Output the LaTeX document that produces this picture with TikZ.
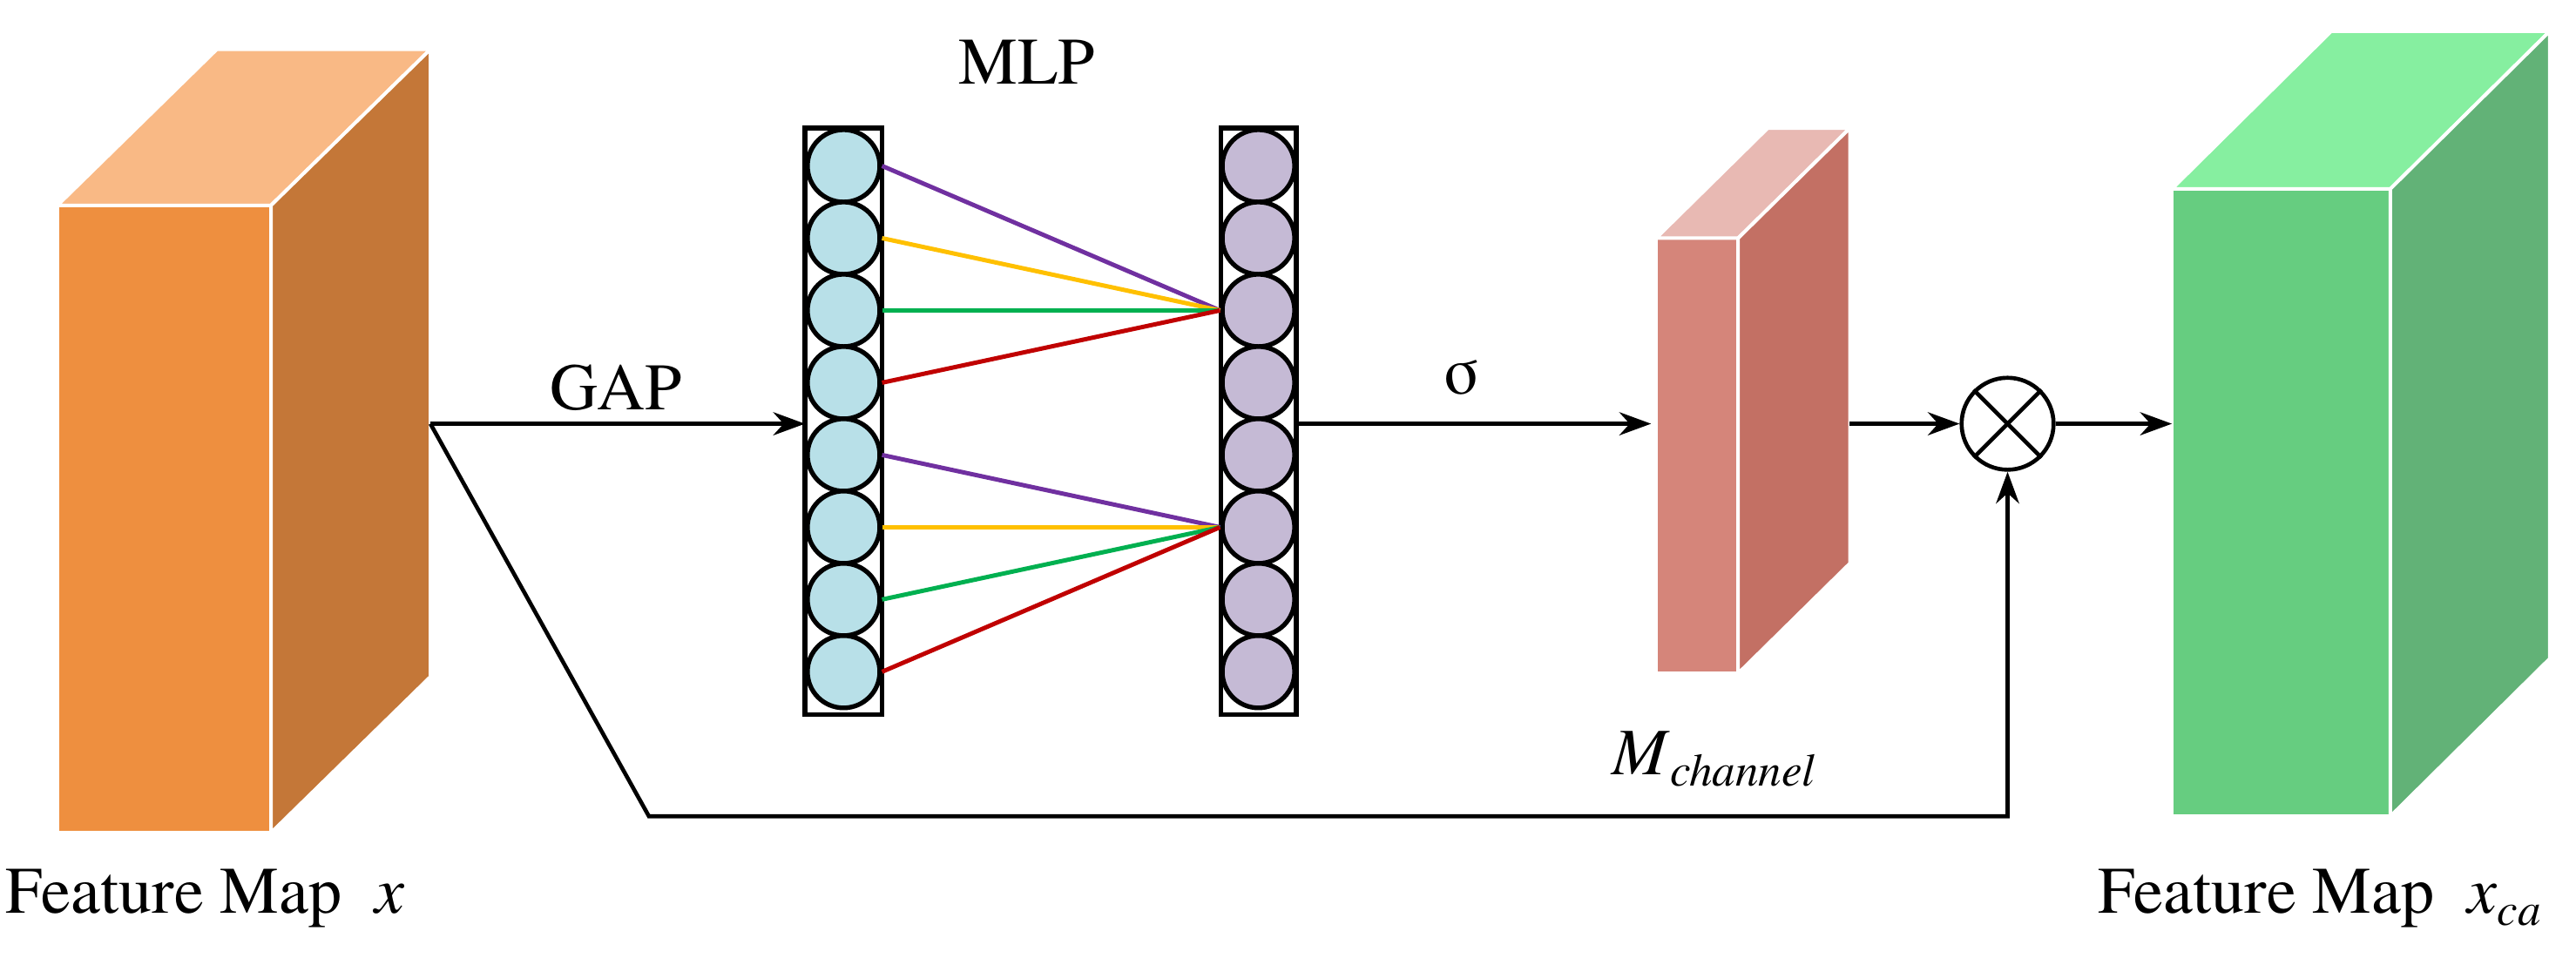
\documentclass[tikz,border=0pt]{standalone}
\usepackage{fontspec}
\setmainfont{texgyretermes}[Extension=.otf,UprightFont=*-regular,ItalicFont=*-italic]
\usetikzlibrary{arrows.meta}
\definecolor{ofr}{HTML}{EE8F3F}\definecolor{otp}{HTML}{F9B985}\definecolor{osd}{HTML}{C47738}
\definecolor{mfr}{HTML}{D5857A}\definecolor{mtp}{HTML}{E8B9B3}\definecolor{msd}{HTML}{C37064}
\definecolor{gfr}{HTML}{66CD80}\definecolor{gtp}{HTML}{86EFA0}\definecolor{gsd}{HTML}{62B277}
\definecolor{cblue}{HTML}{B8E0E8}\definecolor{cpur}{HTML}{C5BAD5}
\definecolor{lp}{HTML}{7030A0}\definecolor{ly}{HTML}{FFC000}\definecolor{lg}{HTML}{00B050}\definecolor{lr}{HTML}{C00000}
\begin{document}
\begin{tikzpicture}[x=0.02cm,y=-0.02cm,
  face/.style={draw=white,line width=1.2pt,line join=round},
  conn/.style={line width=1.4pt,-{Stealth[length=11pt,width=8pt]}},
  lbl/.style={font=\fontsize{23}{27}\selectfont},
  neu/.style={circle,draw=black,line width=1.6pt,minimum size=0.88cm,inner sep=0pt},
  col/.style={draw=black,line width=1.6pt},
  wire/.style={line width=1.5pt}]
\useasboundingbox (0,0) rectangle (1568,583);
% left box
\filldraw[ofr,face] (35,125) rectangle (165,507);
\filldraw[otp,face] (35,125) -- (132,30) -- (262,30) -- (165,125) -- cycle;
\filldraw[osd,face] (165,125) -- (262,30) -- (262,412) -- (165,507) -- cycle;
% M box
\filldraw[mfr,face] (1008,145) rectangle (1058,410);
\filldraw[mtp,face] (1008,145) -- (1076,78) -- (1126,78) -- (1058,145) -- cycle;
\filldraw[msd,face] (1058,145) -- (1126,78) -- (1126,343) -- (1058,410) -- cycle;
% right box
\filldraw[gfr,face] (1322,115) rectangle (1455,497);
\filldraw[gtp,face] (1322,115) -- (1419,19) -- (1552,19) -- (1455,115) -- cycle;
\filldraw[gsd,face] (1455,115) -- (1552,19) -- (1552,401) -- (1455,497) -- cycle;
% columns
\draw[col] (490,78) rectangle (537,435);
\draw[col] (743,78) rectangle (789,435);
\foreach \k in {0,...,7}{
  \node[neu,fill=cblue] (L\k) at (513.5,{101+44*\k}) {};
  \node[neu,fill=cpur] (R\k) at (766,{101+44*\k}) {};
}
\foreach \k/\c in {0/lp,1/ly,2/lg,3/lr}{
  \draw[wire,\c] (L\k.east) -- (R2.west);
}
\foreach \k/\c in {4/lp,5/ly,6/lg,7/lr}{
  \draw[wire,\c] (L\k.east) -- (R5.west);
}
% coordinates
\coordinate (xo) at (262,258);
\coordinate (gin) at (490,258);
\coordinate (mo) at (789,258);
\coordinate (min) at (1005,258);
\coordinate (mout) at (1126,258);
\coordinate (b1) at (395,497);
\coordinate (b2) at (1222,497);
\coordinate (fin) at (1322,258);
\node[circle,draw,line width=1.4pt,minimum size=1.12cm,inner sep=0pt] (ot) at (1222,258) {};
\draw[line width=1.4pt] (ot.north west) -- (ot.south east) (ot.north east) -- (ot.south west);
\draw[conn] (xo) -- (gin);
\draw[conn] (mo) -- (min);
\draw[conn] (mout) -- (ot.west);
\draw[conn] (ot.east) -- (fin);
\draw[conn] (xo) -- (b1) -- (b2) -- (ot.south);
% labels
\node[lbl] (tgap) at (375,236) {GAP};
\node[lbl] (tmlp) at (625,38) {MLP};
\node[lbl] (tsig) at (890,230) {σ};
\node[lbl] (tm) at (1043,462) {\textit{M}\raisebox{-0.4ex}{\fontsize{16}{18}\selectfont\textit{channel}}};
\node[lbl] (tx) at (125,547) {Feature Map\ \ \textit{x}};
\node[lbl] (txca) at (1412,547) {Feature Map\ \ \textit{x}\raisebox{-0.4ex}{\fontsize{16}{18}\selectfont\textit{ca}}};
\end{tikzpicture}
\end{document}
